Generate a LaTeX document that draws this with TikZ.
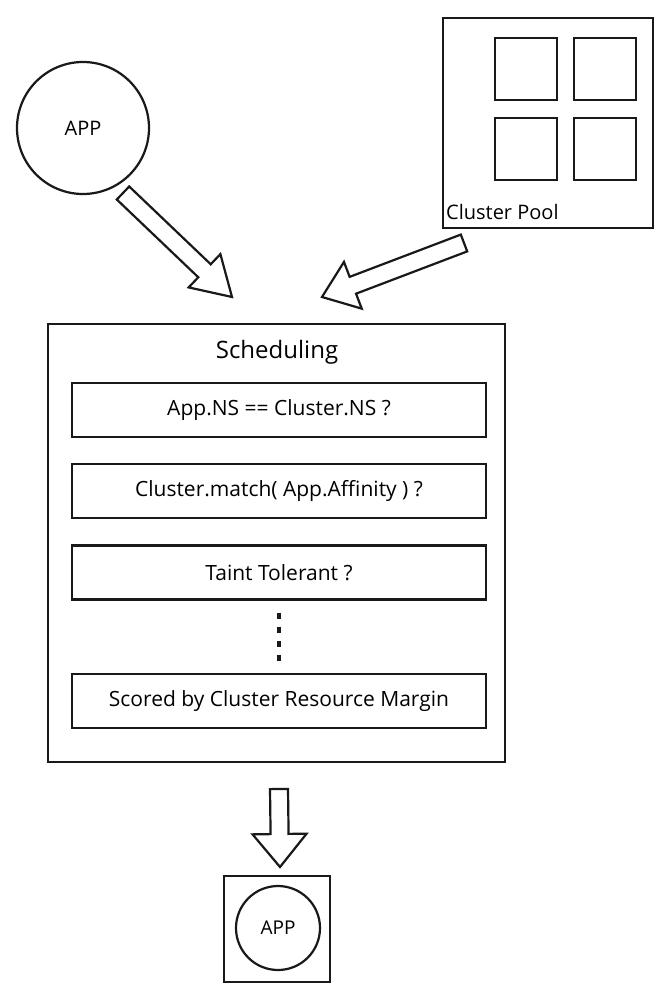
\documentclass[tikz,border=0pt]{standalone}
\usepackage{fontspec}
\setmainfont{Open Sans}
\usetikzlibrary{calc}
\tikzset{
  ink/.style={draw=black!90, line width=2.2pt},
  txt/.style={font=\fontsize{21}{24}\selectfont},
  boxnode/.style={ink, txt, rectangle, minimum width=414pt, minimum height=54pt, inner sep=0pt},
  square/.style={ink, rectangle, minimum size=62pt, inner sep=0pt},
  blockarrow/.style={ink, fill=white, line join=miter},
  dotcol/.style={draw=black!90, line width=4.5pt, dash pattern=on 6pt off 8pt}
}
% tail, tip, half body width, half head width, head length
\newcommand{\fatarrow}[5]{%
  \coordinate (fa-h) at ($(#2)!#5!(#1)$);
  \draw[blockarrow] ($(#1)!#3!90:(#2)$) -- ($(fa-h)!#3!90:(#2)$) -- ($(fa-h)!#4!90:(#2)$)
    -- (#2) -- ($(fa-h)!#4!-90:(#2)$) -- ($(fa-h)!#3!-90:(#2)$) -- ($(#1)!#3!-90:(#2)$) -- cycle;
}
\begin{document}
\begin{tikzpicture}[x=1pt, y=-1pt]
\useasboundingbox[fill=white] (0,0) rectangle (671,1000);

% APP circle
\node[ink, font=\fontsize{20}{22}\selectfont, circle, minimum size=132pt, inner sep=0pt] (app) at (83,128) {APP};

% Cluster pool
\node[ink, rectangle, minimum width=210pt, minimum height=210pt, inner sep=0pt] (pool) at (548,123) {};
\node[square] (c1) at (526,69) {};
\node[square] (c2) at (605,69) {};
\node[square] (c3) at (526,149) {};
\node[square] (c4) at (605,149) {};
\node[font=\fontsize{20}{22}\selectfont, anchor=base west, inner sep=0pt] (poollbl) at (446,220) {Cluster Pool};

% Scheduling
\node[ink, rectangle, minimum width=457pt, minimum height=438pt, inner sep=0pt] (sched) at (276.5,543) {};
\node[font=\fontsize{24}{26}\selectfont, inner sep=0pt] (title) at (277,352) {Scheduling};
\node[boxnode] (b1) at (279,410) {App.NS == Cluster.NS ?};
\node[boxnode] (b2) at (279,491) {Cluster.match( App.Affinity ) ?};
\node[boxnode] (b3) at (279,572.5) {Taint Tolerant ?};
\node[boxnode] (b4) at (279,701) {Scored by Cluster Resource Margin};
\draw[dotcol] ([yshift=-12pt]b3.south) -- ([yshift=12pt]b4.north);

% Result
\node[ink, rectangle, minimum size=106pt, inner sep=0pt] (out) at (277,929) {};
\node[ink, font=\fontsize{19}{21}\selectfont, circle, minimum size=84pt, inner sep=0pt] (app2) at (278,928) {APP};

% Block arrows
\coordinate (a1t) at (123,193);
\coordinate (a1h) at (232,297);
\fatarrow{a1t}{a1h}{9pt}{23pt}{38pt}
\coordinate (a2t) at (464,243);
\coordinate (a2h) at (322,297);
\fatarrow{a2t}{a2h}{9pt}{25pt}{33pt}
\coordinate (a3t) at (279,789);
\coordinate (a3h) at (280,867);
\fatarrow{a3t}{a3h}{9pt}{27pt}{33pt}
\end{tikzpicture}
\end{document}
